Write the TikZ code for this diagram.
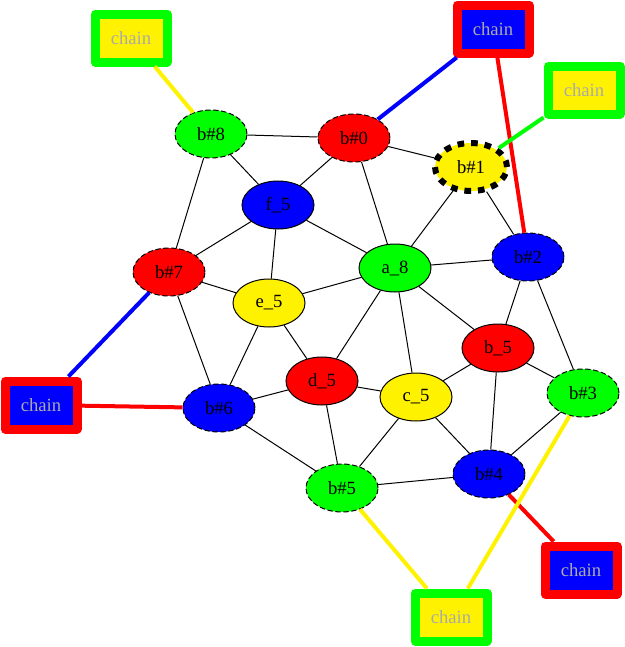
\documentclass[tikz,border=0pt]{standalone}
\usepackage{fontspec}
\setmainfont{Liberation Serif}
\usetikzlibrary{shapes.geometric}
\definecolor{chaingray}{RGB}{170,170,170}
\tikzset{
  el/.style={ellipse, draw=black, line width=0.75pt, minimum width=54pt, minimum height=36pt, inner sep=0pt, font=\fontsize{14}{16}\selectfont},
  dsh/.style={dash pattern=on 4pt off 2pt},
  gn/.style={el, fill=green},
  rd/.style={el, fill=red},
  bl/.style={el, fill=blue},
  yl/.style={el, fill=yellow},
  chainbox/.style={rectangle, line width=6.75pt, line join=round, minimum width=54pt, minimum height=36pt, inner sep=0pt, text=chaingray, font=\fontsize{14}{16}\selectfont},
  cyg/.style={chainbox, fill=yellow, draw=green},
  cbr/.style={chainbox, fill=blue, draw=red},
  ed/.style={draw=black, line width=0.75pt},
  ce/.style={line width=3pt},
}
\begin{document}
\begin{tikzpicture}[x=0.75pt,y=-0.75pt]
\useasboundingbox (0,0) rectangle (625,647);
% graph nodes
\node[gn,dsh] (b8) at (211,134) {b\#8};
\node[rd,dsh] (b0) at (354,138) {b\#0};
\node[yl,line width=4.5pt,dash pattern=on 5pt off 5.2pt] (b1) at (471,167) {b\#1};
\node[bl] (f5) at (278,205) {f\_5};
\node[gn] (a8) at (395,268) {a\_8};
\node[bl,dsh] (b2) at (528,257) {b\#2};
\node[rd,dsh] (b7) at (169,272) {b\#7};
\node[yl] (e5) at (269,303) {e\_5};
\node[rd] (bu5) at (498,348) {b\_5};
\node[rd] (d5) at (322,381) {d\_5};
\node[yl] (c5) at (416,397) {c\_5};
\node[gn,dsh] (b3) at (583,393) {b\#3};
\node[bl,dsh] (b6) at (219,408) {b\#6};
\node[gn,dsh] (b5) at (342,488) {b\#5};
\node[bl,dsh] (b4) at (489,474) {b\#4};
% chain boxes
\node[cyg] (c1) at (131,38) {chain};
\node[cbr] (c2) at (493,29) {chain};
\node[cyg] (c3) at (584,90) {chain};
\node[cbr] (c4) at (41,405) {chain};
\node[cbr] (c5b) at (581,570) {chain};
\node[cyg] (c6) at (451,617) {chain};
% black edges
\foreach \a/\b in {b8/b0,b8/f5,b8/b7,b0/b1,b0/f5,b0/a8,b1/a8,b1/b2,f5/b7,f5/e5,f5/a8,
  a8/b2,a8/e5,a8/d5,a8/c5,a8/bu5,b2/bu5,b2/b3,b7/e5,b7/b6,e5/b6,e5/d5,bu5/c5,bu5/b4,bu5/b3,
  d5/b6,d5/b5,d5/c5,c5/b5,c5/b4,b3/b4,b6/b5,b5/b4}
  \draw[ed] (\a) -- (\b);
% chain edges
\draw[ce,yellow] (c1) -- (b8);
\draw[ce,blue] (c2) -- (b0);
\draw[ce,red] (c2) -- (b2);
\draw[ce,green] (c3) -- (b1);
\draw[ce,blue] (c4) -- (b7);
\draw[ce,red] (c4) -- (b6);
\draw[ce,red] (c5b) -- (b4);
\draw[ce,yellow] (c6) -- (b5);
\draw[ce,yellow] (c6) -- (b3);
\end{tikzpicture}
\end{document}
